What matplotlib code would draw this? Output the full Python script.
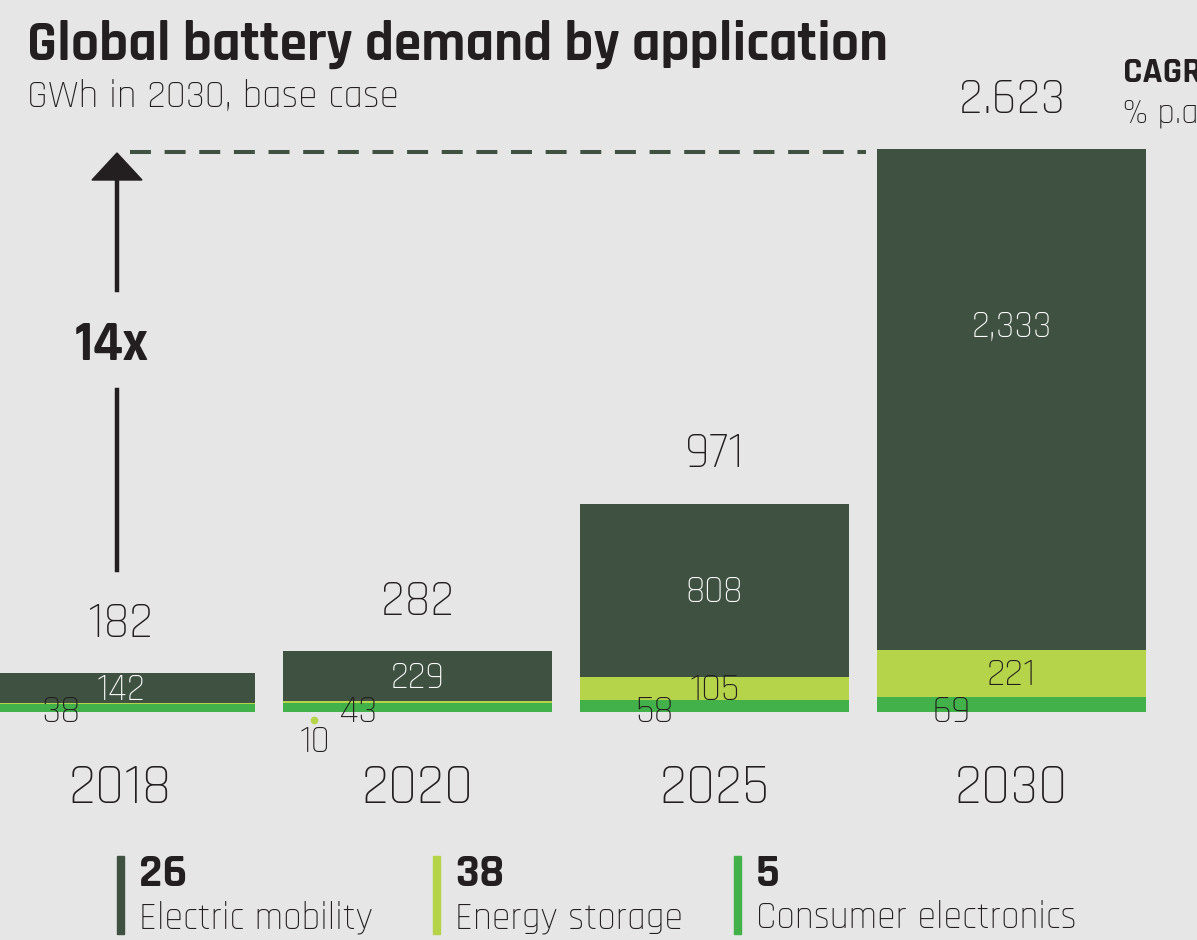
import matplotlib
matplotlib.use("Agg")
import matplotlib.pyplot as plt
import numpy as np

# Global battery demand by application, GWh (base case)
YEARS = ["2018", "2020", "2025", "2030"]
MOBILITY = [142, 229, 808, 2333]
STORAGE = [2, 10, 105, 221]
CONSUMER = [38, 43, 58, 69]

# CAGR 2018-2030, % p.a.
LEGEND_NAMES = ["Electric mobility", "Energy storage", "Consumer electronics"]
CAGR = ["26", "38", "5"]

DARK = "#3f5241"
LIME = "#b5d44a"
GREEN = "#43b149"
BG = "#e5e6e5"
INK = "#231f20"

W, H = 1197, 940
FONT = "Rajdhani"
plt.rcParams["font.family"] = [FONT, "DejaVu Sans"]

fig = plt.figure(figsize=(W / 100, H / 100), dpi=100, facecolor=BG)
ax = fig.add_axes([0, 0, 1, 1])
ax.set_facecolor(BG)
ax.axis("off")

cons = np.array(CONSUMER)
stor = np.array(STORAGE)
mob = np.array(MOBILITY)
totals = cons + stor + mob
x = np.arange(len(YEARS))

# scale: bar centres 297 px apart, baseline at y=712 px, tallest bar top at 149 px
px_per_unit = (712 - 149) / totals.max()
ax.set_xlim(-120.5 / 297, (W - 120.5) / 297)
ax.set_ylim(-(H - 712) / px_per_unit, 712 / px_per_unit)


def ftext(px, py, s, **kw):
    kw.setdefault("color", INK)
    kw.setdefault("fontweight", "light")
    kw.setdefault("va", "baseline")
    fig.text(px / W, 1 - py / H, s, **kw)


bw = 269 / 297
ax.bar(x, cons, bw, color=GREEN, zorder=2)
ax.bar(x, stor, bw, bottom=cons, color=LIME, zorder=2)
ax.bar(x, mob, bw, bottom=cons + stor, color=DARK, zorder=2)

lbl = dict(ha="center", va="baseline", textcoords="offset points",
           fontweight="light", zorder=3)
mob_shift = [0, 0, 0, 54]
for i in range(len(YEARS)):
    ax.annotate(f"{totals[i]:,}".replace(",", "."), (x[i], totals[i]),
                xytext=(0, 26), fontsize=36, color=INK, **lbl)
    ax.annotate(f"{mob[i]:,}", (x[i], cons[i] + stor[i] + mob[i] / 2),
                xytext=(0, mob_shift[i] - 8.5), fontsize=27, color="white", **lbl)
    ax.annotate(YEARS[i], (x[i], 0), xytext=(0, -65.5), fontsize=41,
                color=INK, **lbl)
    ax.annotate(f"{cons[i]}", (x[i], 0), xytext=(-43, -7.5), fontsize=28,
                color=INK, **lbl)

for i in (2, 3):
    ax.annotate(f"{stor[i]}", (x[i], cons[i] + stor[i] / 2),
                xytext=(0, -8.5), fontsize=28, color=INK, **lbl)

# small callout for the 2020 storage value
ax.plot([x[1] - 0.347], [-8 / px_per_unit], "o", color=LIME, ms=4.5, zorder=3)
ax.annotate(f"{stor[1]}", (x[1] - 0.347, 0), xytext=(0, -28.5),
            fontsize=27, color=INK, **lbl)

# dashed reference line at the 2030 total and the growth arrow
ax.plot([x[0] + 0.033, x[3] - 0.49], [totals[3] - 3 / px_per_unit] * 2,
        color=DARK, lw=2.9, dashes=(5.2, 3.4), dash_capstyle="butt")
ftext(112, 360, f"{totals[3] / totals[0]:.0f}x", fontsize=40, fontweight="bold",
      ha="center")
for y0, y1 in [(178, 290), (390, 570)]:
    fig.add_artist(plt.Line2D([117 / W] * 2, [1 - y0 / H, 1 - y1 / H],
                              color=INK, lw=3.2))
fig.add_artist(plt.Polygon([[92 / W, 1 - 180 / H], [142 / W, 1 - 180 / H],
                            [117 / W, 1 - 153 / H]], closed=True, color=INK))

# titles
ftext(27, 60, "Global battery demand by application", fontsize=40,
      fontweight="bold")
ftext(27, 107, "GWh in 2030, base case", fontsize=28)
ftext(1123, 82, "CAGR", fontsize=26, fontweight="bold")
ftext(1123, 122, "% p.a.", fontsize=25)

# legend with CAGR values
leg_x = [117, 433, 734]
for lx, col, name, val in zip(leg_x, [DARK, LIME, GREEN], LEGEND_NAMES, CAGR):
    fig.add_artist(plt.Rectangle((lx / W, 1 - 934 / H), 7 / W, 78 / H,
                                 color=col))
    ftext(lx + 22, 886, val, fontsize=34, fontweight="bold")
    ftext(lx + 22, 928, name, fontsize=27)

fig.savefig("out.png", dpi=100, facecolor=BG)
